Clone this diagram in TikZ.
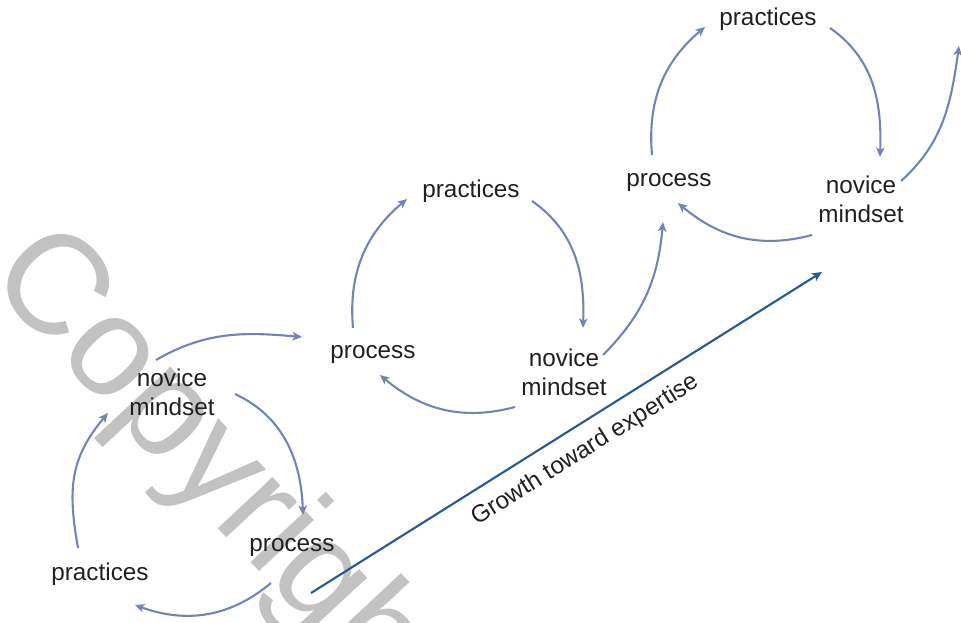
\documentclass[tikz,border=0pt]{standalone}
\usepackage{fontspec}
\setmainfont{Liberation Sans}
\usetikzlibrary{arrows.meta,calc}
\definecolor{cycc}{HTML}{7284B4}
\definecolor{growc}{HTML}{235A90}
\definecolor{txtc}{HTML}{231F20}
\definecolor{wmc}{HTML}{C2C2C2}
\begin{document}
\begin{tikzpicture}[x=1pt,y=1pt,
  lbl/.style={font=\fontsize{24.3}{29.2}\selectfont, text=txtc, align=center, inner sep=0pt},
  wmark/.style={font=\fontsize{142}{142}\selectfont, text=wmc, inner sep=0pt},
  cycarrow/.style={draw=cycc, line width=2.1pt, -{Stealth[length=9.5pt,width=8.5pt,inset=2.5pt]}},
  growarrow/.style={draw=growc, line width=2.1pt, -{Stealth[length=10pt,width=9pt,inset=2.5pt]}}]
\useasboundingbox (0,0) rectangle (961,-623);

% watermark (behind everything)
\node[wmark, rotate=-47] (wm) at (220,-476) {Copyright};

% cycle 1
\node[lbl] (pr1) at (100,-574) {practices};
\node[lbl] (nm1) at (172,-392) {novice\\mindset};
\node[lbl] (pc1) at (292,-547) {process};
% cycle 2
\node[lbl] (pc2) at (373,-354) {process};
\node[lbl] (pr2) at (471,-191) {practices};
\node[lbl] (nm2) at (564,-372) {novice\\mindset};
% cycle 3
\node[lbl] (pc3) at (669,-182) {process};
\node[lbl] (pr3) at (768,-19) {practices};
\node[lbl] (nm3) at (861,-199) {novice\\mindset};

\coordinate (out3) at (959,-46);
\coordinate (gs) at (311,-593);
\coordinate (ge) at (822,-272);

% cycle 1 arrows
\draw[cycarrow] ($(pr1)+(-22,26)$) to[out=100,in=230,looseness=1.1] ($(nm1)+(-64,-21)$);
\draw[cycarrow] ($(nm1)+(-16,32)$) to[out=30,in=175] ($(pc2)+(-71,17)$);
\draw[cycarrow] ($(nm1)+(63,-2)$) to[out=-25,in=92] ($(pc1)+(11,32)$);
\draw[cycarrow] ($(pc1)+(-21,-36)$) to[out=220,in=-20] ($(pr1)+(35,-31)$);

% cycle 2 arrows
\draw[cycarrow] ($(pc2)+(-20,26)$) to[out=95,in=220] ($(pr2)+(-64,-8)$);
\draw[cycarrow] ($(pr2)+(61,-10)$) to[out=-35,in=88] ($(nm2)+(19,44)$);
\draw[cycarrow] ($(nm2)+(-49,-35)$) to[out=195,in=320] ($(pc2)+(7,-21)$);
\draw[cycarrow] ($(nm2)+(39,17)$) to[out=45,in=265] ($(pc3)+(-6,-40)$);

% cycle 3 arrows
\draw[cycarrow] ($(pc3)+(-17,27)$) to[out=95,in=220] ($(pr3)+(-63,-8)$);
\draw[cycarrow] ($(pr3)+(62,-9)$) to[out=-35,in=88] ($(nm3)+(19,42)$);
\draw[cycarrow] ($(nm3)+(-49,-36)$) to[out=195,in=320] ($(pc3)+(9,-21)$);
\draw[cycarrow] ($(nm3)+(40,18)$) to[out=42,in=262] (out3);

% growth arrow
\draw[growarrow] (gs) -- (ge)
  node[lbl, pos=0.511, sloped, anchor=north, inner ysep=13pt] (gl) {Growth toward expertise};
\end{tikzpicture}
\end{document}
